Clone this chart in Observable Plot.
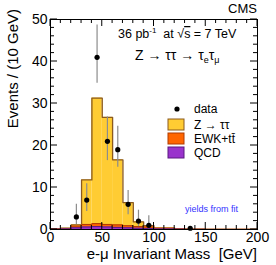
<!DOCTYPE html>
<html><head><meta charset="utf-8">
<script src="https://cdn.jsdelivr.net/npm/d3@7"></script>
<script src="https://cdn.jsdelivr.net/npm/@observablehq/plot@0.6"></script>
<style>
body{margin:0;background:#fff}
svg{font-family:"Liberation Sans",Arial,sans-serif}
</style>
</head><body><div id="c"></div>
<script>
const binLo = [0,10,20,30,40,50,60,70,80,90,100,110,120,130,140,150,160,170,180,190];
const binHi = [10,20,30,40,50,60,70,80,90,100,110,120,130,140,150,160,170,180,190,200];
const qcd = [0.05,0.1,0.4,0.6,0.7,0.6,0.5,0.4,0.3,0.2,0.1,0.1,0.05,0.02,0.02,0.01,0.01,0.01,0.01,0.01];
const ewk = [0.05,0.1,0.4,0.6,0.7,0.6,0.6,0.5,0.4,0.4,0.2,0.2,0.05,0.03,0.03,0.02,0.02,0.02,0.02,0.02];
const ztt = [0.05,0.1,0.3,10.6,29.9,25.5,15.5,5.5,1.1,0.3,0.05,0.05,0.02,0.01,0.01,0.01,0.01,0.01,0.01,0.01];
const dataX = [25,35,45,55,65,75,85,95,135];
const dataY = [3,7,41,21,19,6,2,1,0.3];
const dataLo = [1.2,4.3,34.8,16.4,14.8,3.5,0.7,0.2,0.3];
const dataHi = [6.0,10.9,48.7,26.8,24.6,9.3,4.6,3.3,0.3];
const yTicks = [0,10,20,30,40,50];
const xTicks = [0,50,100,150,200];

const bins = binLo.map((lo,i)=>({
  x1: lo, x2: binHi[i],
  purple: qcd[i],
  orange: qcd[i]+ewk[i],
  total: qcd[i]+ewk[i]+ztt[i]
}));
function outline(key){
  const pts=[{x:binLo[0],y:0}];
  bins.forEach(b=>{pts.push({x:b.x1,y:b[key]});pts.push({x:b.x2,y:b[key]});});
  pts.push({x:binHi[binHi.length-1],y:0});
  return pts;
}
const pts = dataX.map((x,i)=>({x,y:dataY[i],lo:dataLo[i],hi:dataHi[i]}));

const W=276,H=265;
const plot = Plot.plot({
  width:W,height:H,
  marginLeft:50,marginRight:19,marginTop:19,marginBottom:36,
  x:{domain:[0,200],ticks:xTicks,label:null},
  y:{domain:[0,50],ticks:yTicks,label:null},
  style:{fontSize:"14px",fontFamily:"Liberation Sans, Arial, sans-serif",color:"#000",background:"#fff"},
  marks:[
    Plot.rect(bins,{x1:"x1",x2:"x2",y1:0,y2:"total",fill:"#ffcc33"}),
    Plot.line(outline("total"),{x:"x",y:"y",stroke:"#8b5a1e",strokeWidth:1.3}),
    Plot.rect(bins,{x1:"x1",x2:"x2",y1:0,y2:"orange",fill:"#ff6600"}),
    Plot.line(outline("orange"),{x:"x",y:"y",stroke:"#b03a00",strokeWidth:1}),
    Plot.rect(bins,{x1:"x1",x2:"x2",y1:0,y2:"purple",fill:"#9933cc"}),
    Plot.line(outline("purple"),{x:"x",y:"y",stroke:"#5a1a80",strokeWidth:1}),
    Plot.ruleX(pts.filter(d=>d.hi>d.lo),{x:"x",y1:"lo",y2:"hi",stroke:"#8c8c8c",strokeWidth:1.2}),
    Plot.dot(pts,{x:"x",y:"y",r:2.6,fill:"#000",stroke:"none"}),
    Plot.axisX({ticks:xTicks,tickSize:0,tickPadding:3,fontSize:14}),
    Plot.axisY({ticks:yTicks,tickSize:0,tickPadding:3,fontSize:14}),
    Plot.frame({stroke:"#000",strokeWidth:1})
  ]
});
document.getElementById("c").appendChild(plot);

const svg=d3.select(plot);
const xs=plot.scale("x"), ys=plot.scale("y");
const L=50,R=W-19,T=19,B=H-36;
const g=svg.append("g").attr("stroke","#000").attr("stroke-width",1);
for(let v=0;v<=50;v+=2){
  const y=ys.apply(v), len=(v%10===0)?7:4;
  g.append("line").attr("x1",L).attr("x2",L+len).attr("y1",y).attr("y2",y);
  g.append("line").attr("x1",R).attr("x2",R-len).attr("y1",y).attr("y2",y);
}
for(let v=0;v<=200;v+=10){
  const x=xs.apply(v), len=(v%50===0)?7:4;
  g.append("line").attr("y1",B).attr("y2",B-len).attr("x1",x).attr("x2",x);
  g.append("line").attr("y1",T).attr("y2",T+len).attr("x1",x).attr("x2",x);
}
const t=svg.append("g").attr("fill","#000").attr("text-anchor","start").attr("font-family","Liberation Sans, Arial, sans-serif");
t.append("text").attr("transform","translate(18,9) rotate(-90)").attr("text-anchor","end").attr("font-size",15).text("Events / (10 GeV)");
t.append("text").attr("x",257).attr("y",259).attr("text-anchor","end").attr("font-size",15).attr("xml:space","preserve").text("e-μ Invariant Mass  [GeV]");
t.append("text").attr("x",257).attr("y",13).attr("text-anchor","end").attr("font-size",13).text("CMS");
const l1=t.append("text").attr("x",118).attr("y",38).attr("font-size",12.5).attr("xml:space","preserve");
l1.append("tspan").text("36 pb");
l1.append("tspan").attr("dy",-5).attr("font-size",8).text("-1");
l1.append("tspan").attr("dy",5).text("  at √");
l1.append("tspan").attr("style","text-decoration:overline").text("s");
l1.append("tspan").text(" = 7 TeV");
const l2=t.append("text").attr("x",135).attr("y",60).attr("font-size",14);
l2.append("tspan").text("Z → ττ → τ");
l2.append("tspan").attr("dy",3).attr("font-size",9).text("e");
l2.append("tspan").attr("dy",-3).text("τ");
l2.append("tspan").attr("dy",3).attr("font-size",9).text("μ");
// legend
const lg=svg.append("g").attr("text-anchor","start").attr("font-family","Liberation Sans, Arial, sans-serif").attr("font-size",12);
lg.append("circle").attr("cx",177).attr("cy",109).attr("r",2.6).attr("fill","#000");
lg.append("text").attr("x",194).attr("y",113).text("data");
const items=[["#ffcc33","#8b5a1e","Z → ττ",119,129],["#ff6600","#b03a00","EWK+tt̄",133,143],["#9933cc","#5a1a80","QCD",147,157]];
items.forEach(([f,s,lab,y0,yb])=>{
  lg.append("rect").attr("x",168).attr("y",y0).attr("width",16).attr("height",11).attr("fill",f).attr("stroke",s).attr("stroke-width",1);
  lg.append("text").attr("x",194).attr("y",yb).text(lab);
});
svg.append("text").attr("x",185).attr("y",212).attr("text-anchor","start").attr("font-size",9).attr("fill","#3333ff").attr("font-family","Liberation Sans, Arial, sans-serif").text("yields from fit");
</script>
</body></html>
